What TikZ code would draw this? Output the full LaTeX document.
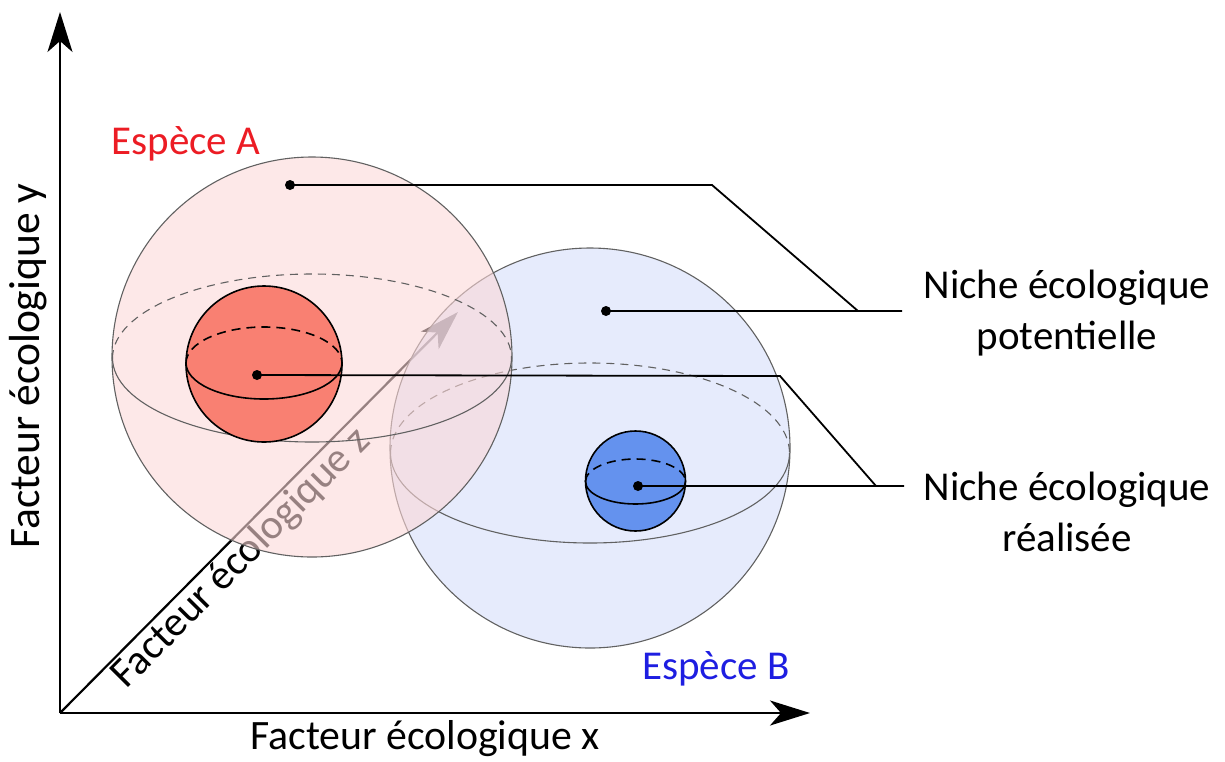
\documentclass[tikz,border=0pt]{standalone}
\usepackage{fontspec}
\setmainfont{Carlito}
\usetikzlibrary{arrows.meta,positioning}

\definecolor{pinkA}{RGB}{252,216,216}
\definecolor{blueB}{RGB}{213,222,250}
\definecolor{redcore}{RGB}{249,128,114}
\definecolor{bluecore}{RGB}{100,146,238}
\definecolor{redname}{RGB}{236,28,36}
\definecolor{bluename}{RGB}{30,30,225}

\begin{document}
\begin{tikzpicture}[
    x=1pt, y=-1pt,
    font=\fontsize{41}{51}\selectfont,
    >={Stealth[length=40pt,width=25pt,inset=11pt]},
    axis/.style={line width=2.2pt, ->},
    axistext/.style={font=\fontsize{41.8}{50}\selectfont},
    shell/.style={draw=black!62, line width=1.1pt},
    shellback/.style={shell, dash pattern=on 8pt off 6pt},
    core/.style={draw=black, line width=1.6pt},
    coreback/.style={core, dash pattern=on 9pt off 6pt},
    leader/.style={line width=1.8pt},
    dot/.style={circle, fill=black, inner sep=0pt, minimum size=10pt},
    nichetext/.style={align=center}
  ]
  \useasboundingbox (0,0) rectangle (1225,761);

  % axes
  \coordinate (O) at (60,713);
  \coordinate (xend) at (810,713);
  \coordinate (yend) at (60,12);
  \coordinate (zend) at (458,312);

  % z axis first, the spheres cover it
  \draw[axis] (O) -- node[axistext, pos=0.42, below, sloped, inner sep=1pt] (zlab) {Facteur écologique z} (zend);

  % sphere B
  \fill[blueB, fill opacity=0.6] (590,448) circle[radius=200];
  \draw[shell] (590,448) circle[radius=200];
  \draw[shell] (789.5,453) arc[start angle=0, end angle=180, x radius=199.5, y radius=90];
  \draw[shellback] (390.5,453) arc[start angle=180, end angle=360, x radius=199.5, y radius=90];

  % sphere A
  \fill[pinkA, fill opacity=0.6] (312,357) circle[radius=200];
  \draw[shell] (312,357) circle[radius=200];
  \draw[shell] (511.5,358) arc[start angle=0, end angle=180, x radius=199.5, y radius=84];
  \draw[shellback] (112.5,358) arc[start angle=180, end angle=360, x radius=199.5, y radius=84];

  % realised niches
  \filldraw[core, fill=redcore] (264,364) circle[radius=78];
  \draw[core] (342,363) arc[start angle=0, end angle=180, x radius=78, y radius=36];
  \draw[coreback] (186,363) arc[start angle=180, end angle=360, x radius=78, y radius=36];

  \filldraw[core, fill=bluecore] (635.5,481) circle[radius=50];
  \draw[core] (685.5,481.5) arc[start angle=0, end angle=180, x radius=50, y radius=22.5];
  \draw[coreback] (585.5,481.5) arc[start angle=180, end angle=360, x radius=50, y radius=22.5];

  % names
  \node[text=redname] (nameA) at (186,144) {Espèce A};
  \node[text=bluename] (nameB) at (716,669) {Espèce B};

  % leaders
  \node[dot] (dotA) at (290,185) {};
  \node[dot] (dotB) at (606,311) {};
  \node[dot] (dotAr) at (257,375) {};
  \node[dot] (dotBr) at (638,486) {};

  \coordinate (kpot) at (712,185);
  \coordinate (jpot) at (858,311);
  \coordinate (epot) at (902,311);
  \coordinate (kreal) at (780,376);
  \coordinate (jreal) at (876,486);
  \coordinate (ereal) at (904,486);

  \draw[leader] (dotA.center) -- (kpot) -- (jpot) -- (epot);
  \draw[leader] (dotB.center) -- (jpot);
  \draw[leader] (dotAr.center) -- (kreal) -- (jreal) -- (ereal);
  \draw[leader] (dotBr.center) -- (jreal);

  \node[nichetext] (potent) at (1067,313) {Niche écologique\\potentielle};
  \node[nichetext] (realis) at (1067,512) {Niche écologique\\réalisée};

  % x and y axes
  \draw[axis] (O) -- (xend);
  \draw[axis] (O) -- (yend);
  \node[axistext] (xlab) at (425,739) {Facteur écologique x};
  \node[axistext, font=\fontsize{43.5}{50}\selectfont, rotate=90] (ylab) at (28,366) {Facteur écologique y};

\end{tikzpicture}
\end{document}
